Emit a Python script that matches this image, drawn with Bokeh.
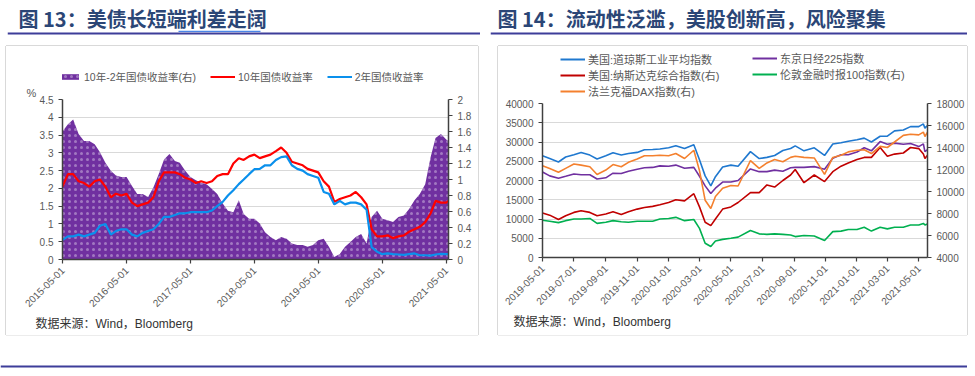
import pandas as pd
from math import pi
from bokeh.plotting import figure
from bokeh.models import (Range1d, LinearAxis, FixedTicker, DatetimeTickFormatter, BoxAnnotation,
                          NumeralTickFormatter, Legend, LegendItem, Label, Span, Spacer, Title)
from bokeh.layouts import column, row
from bokeh.embed import file_html
from bokeh.resources import INLINE

CJK = "Noto Sans CJK SC"
MIX = "Liberation Sans, Noto Sans CJK SC"

# ---------------- Figure 13 data (monthly readings) ----------------
title_L = "图 13：美债长短端利差走阔"
legend_L = ["10年-2年国债收益率(右)", "10年国债收益率", "2年国债收益率"]
xticks_L = ["2015-05-01", "2016-05-01", "2017-05-01", "2018-05-01", "2019-05-01", "2020-05-01", "2021-05-01"]
x_end_L = "2021-05-14"
yticks_L_left = [0, 0.5, 1, 1.5, 2, 2.5, 3, 3.5, 4, 4.5]
yticks_L_right = [0, 0.2, 0.4, 0.6, 0.8, 1.0, 1.2, 1.4, 1.6, 1.8, 2.0]

spread = [1.60, 1.69, 1.75, 1.57, 1.48, 1.48, 1.44, 1.34,
          1.21, 1.11, 1.05, 1.03, 1.03, 0.92, 0.82, 0.82, 0.78, 0.90, 1.07, 1.25,
          1.32, 1.23, 1.21, 1.11, 1.03, 0.99, 0.96, 0.94, 0.88, 0.82, 0.70, 0.61,
          0.59, 0.74, 0.57, 0.51, 0.51, 0.45, 0.34, 0.28, 0.24, 0.28, 0.26, 0.20,
          0.18, 0.18, 0.16, 0.18, 0.24, 0.26, 0.16, 0.03, 0.07, 0.16, 0.22, 0.28,
          0.32, 0.20, 0.53, 0.61, 0.51, 0.49, 0.47, 0.53, 0.55, 0.63, 0.74, 0.82,
          0.94, 1.28, 1.52, 1.57, 1.50, 1.48]
y10 = [2.05, 2.40, 2.40, 2.20, 2.15, 2.05, 2.20, 2.25,
       2.05, 1.75, 1.85, 1.80, 1.85, 1.60, 1.50, 1.55, 1.60, 1.75, 2.20, 2.45,
       2.45, 2.45, 2.40, 2.30, 2.25, 2.15, 2.20, 2.15, 2.20, 2.35, 2.40, 2.40,
       2.70, 2.85, 2.80, 2.90, 2.95, 2.85, 2.90, 2.95, 3.05, 3.15, 3.00, 2.75,
       2.70, 2.65, 2.55, 2.50, 2.45, 2.20, 2.05, 1.62, 1.70, 1.75, 1.80, 1.90,
       1.75, 1.55, 0.85, 0.65, 0.65, 0.68, 0.60, 0.65, 0.68, 0.78, 0.85, 0.92,
       1.05, 1.30, 1.65, 1.60, 1.60, 1.65]
y2 = [0.55, 0.65, 0.65, 0.70, 0.65, 0.70, 0.75, 0.95,
      1.00, 0.70, 0.80, 0.85, 0.85, 0.70, 0.65, 0.75, 0.80, 0.85, 1.00, 1.20,
      1.20, 1.25, 1.30, 1.30, 1.33, 1.33, 1.33, 1.33, 1.38, 1.50, 1.62, 1.80,
      1.95, 2.12, 2.25, 2.40, 2.54, 2.55, 2.65, 2.65, 2.80, 2.88, 2.90, 2.65,
      2.55, 2.50, 2.40, 2.35, 2.30, 1.90, 1.85, 1.55, 1.65, 1.55, 1.60, 1.60,
      1.55, 1.40, 0.35, 0.22, 0.15, 0.17, 0.15, 0.14, 0.13, 0.15, 0.17, 0.12,
      0.12, 0.11, 0.14, 0.16, 0.15, 0.15]
dates_L = list(pd.date_range("2015-05-01", periods=len(y10) - 1, freq="MS")) + [pd.Timestamp(x_end_L)]

# ---------------- Figure 14 data ----------------
title_R = "图 14：流动性泛滥，美股创新高，风险聚集"
xticks_R = ["2019-05-01", "2019-07-01", "2019-09-01", "2019-11-01", "2020-01-01", "2020-03-01",
            "2020-05-01", "2020-07-01", "2020-09-01", "2020-11-01", "2021-01-01", "2021-03-01", "2021-05-01"]
x_end_R = "2021-05-18"
yticks_R_left = [0, 5000, 10000, 15000, 20000, 25000, 30000, 35000, 40000]
yticks_R_right = [4000, 6000, 8000, 10000, 12000, 14000, 16000, 18000]
dates_R = ["2019-05-01", "2019-05-15", "2019-06-01", "2019-06-15", "2019-07-01", "2019-07-15",
           "2019-08-01", "2019-08-15", "2019-09-01", "2019-09-15", "2019-10-01", "2019-10-15",
           "2019-11-01", "2019-11-15", "2019-12-01", "2019-12-15", "2020-01-01", "2020-01-15",
           "2020-02-01", "2020-02-19", "2020-03-01", "2020-03-12", "2020-03-23", "2020-04-01",
           "2020-04-15", "2020-05-01", "2020-05-15", "2020-06-08", "2020-06-25", "2020-07-10",
           "2020-07-25", "2020-08-10", "2020-08-25", "2020-09-03", "2020-09-20", "2020-10-10",
           "2020-10-30", "2020-11-15", "2020-12-01", "2020-12-15", "2021-01-01", "2021-01-15",
           "2021-01-29", "2021-02-15", "2021-03-01", "2021-03-15", "2021-04-01", "2021-04-15",
           "2021-05-01", "2021-05-10", "2021-05-13", "2021-05-18"]
dow = [26400, 25700, 24800, 26100, 26700, 27300, 26600, 25600, 26400, 27200, 26600, 27000,
       27300, 28000, 28050, 28200, 28500, 29000, 28300, 29300, 25400, 21200, 18600, 21000,
       23500, 24000, 23700, 27500, 25700, 26000, 26500, 27800, 28300, 29000, 27700, 28500,
       26500, 29500, 29800, 30200, 30600, 31000, 30000, 31500, 31500, 32900, 33100, 34000,
       34000, 34700, 33600, 34300]
nikkei = [22200, 21200, 20600, 21100, 21700, 21500, 21500, 20400, 20700, 21900, 21800, 22400,
          22900, 23300, 23400, 23800, 23700, 24000, 23200, 23400, 21100, 18600, 16600, 18000,
          19600, 19600, 20000, 23000, 22300, 22300, 22700, 22400, 23300, 23400, 23400, 23600,
          22900, 25800, 26700, 26700, 27400, 28500, 27700, 30100, 29400, 29700, 29400, 29600,
          28800, 29500, 27500, 28000]
nasdaq = [8050, 7850, 7450, 7800, 8100, 8250, 8100, 7800, 7950, 8150, 7900, 8150,
          8400, 8550, 8650, 8800, 9000, 9250, 9150, 9800, 8600, 7200, 6900, 7500,
          8400, 8600, 9000, 9900, 9900, 10600, 10400, 11000, 11500, 12000, 10800, 11500,
          10900, 11800, 12300, 12600, 12900, 13100, 13100, 14000, 13200, 13400, 13500, 14000,
          13900, 13400, 13000, 13300]
dax = [12350, 12100, 11750, 12100, 12500, 12400, 12250, 11550, 11950, 12450, 12250, 12650,
       12950, 13250, 13250, 13300, 13250, 13450, 13000, 13750, 11900, 9200, 8450, 9550,
       10300, 10550, 10500, 12800, 12100, 12600, 12900, 12700, 13100, 13200, 13100, 13050,
       11550, 13100, 13300, 13600, 13750, 13800, 13450, 14100, 14000, 14500, 15100, 15200,
       15150, 15400, 15000, 15400]
ftse = [7380, 7300, 7170, 7350, 7500, 7500, 7550, 7100, 7200, 7350, 7250, 7200,
        7300, 7300, 7300, 7500, 7550, 7650, 7350, 7450, 6650, 5300, 5000, 5500,
        5650, 5750, 5850, 6450, 6150, 6100, 6150, 6100, 6050, 5900, 6000, 5950,
        5550, 6350, 6400, 6550, 6550, 6750, 6400, 6750, 6600, 6750, 6750, 6950,
        6950, 7100, 6950, 7050]
legend_R = ["美国:道琼斯工业平均指数", "美国:纳斯达克综合指数(右)", "法兰克福DAX指数(右)",
            "东京日经225指数", "伦敦金融时报100指数(右)"]
source_text = "数据来源：Wind，Bloomberg"
unit_text = "%"

TICK_COLOR = "#595959"
AXIS_COLOR = "#404040"
C_SPREAD, C_10, C_2 = "#7030A0", "#FF0000", "#0A90EC"
C_DOW, C_NAS, C_DAX, C_NIK, C_FTSE = "#1F78CF", "#C00000", "#F4802E", "#7030A0", "#00B050"
BOX_TOP = {"box-shadow": "0 -1px 0 0 #d9d9d9, -1px 0 0 0 #d9d9d9, 1px 0 0 0 #d9d9d9"}
BOX_BOTTOM = {"box-shadow": "0 1px 0 0 #d9d9d9, -1px 0 0 0 #d9d9d9, 1px 0 0 0 #d9d9d9"}
HATCH = dict(hatch_pattern="dot", hatch_color="white", hatch_scale=6, hatch_weight=0.5,
             hatch_alpha=0.35)


def ms(s):
    return pd.Timestamp(s).value // 10**6


def style_axis(ax, size="10px"):
    ax.axis_line_color = AXIS_COLOR
    ax.axis_line_width = 1.5
    ax.major_tick_line_color = AXIS_COLOR
    ax.major_tick_line_width = 1.2
    ax.major_tick_in = 0
    ax.major_tick_out = 4
    ax.minor_tick_line_color = None
    ax.major_label_text_color = TICK_COLOR
    ax.major_label_text_font = "Liberation Sans"
    ax.major_label_text_font_size = size


def date_formatter():
    f = "%Y-%m-%d"
    return DatetimeTickFormatter(microseconds=f, milliseconds=f, seconds=f, minsec=f, minutes=f,
                                 hourmin=f, hours=f, days=f, months=f, years=f)


def blank(width, height, styles=None):
    f = figure(width=width, height=height, x_range=Range1d(0, 1), y_range=Range1d(0, 1),
               min_border=0, toolbar_location=None, output_backend="svg",
               outline_line_color=None, x_axis_location=None, y_axis_location=None,
               styles=styles or {})
    f.grid.grid_line_color = None
    return f


def header(text, width, x_off):
    h = blank(width, 46)
    h.add_layout(Label(x=x_off, y=28, x_units="screen", y_units="screen", text=text,
                       text_font=CJK, text_font_size="20px", text_font_style="bold",
                       text_color="#2B4676", text_baseline="middle"))
    h.add_layout(Span(location=0.283, dimension="width", line_color="#3D3D99", line_width=2))
    return h


def legend_box(items, loc, orientation, spacing, glyph_h, size):
    return Legend(items=items, orientation=orientation, location=loc, padding=0, margin=0,
                  spacing=spacing, glyph_width=25, glyph_height=glyph_h, label_standoff=3,
                  label_height=14, label_text_line_height=1.0,
                  border_line_alpha=0, background_fill_alpha=0,
                  label_text_font=MIX, label_text_font_size=size, label_text_color=TICK_COLOR)


def source_title(offset):
    return Title(text=source_text, align="left", offset=offset, standoff=2,
                 text_font=MIX, text_font_size="12px", text_font_style="normal",
                 text_color="#333333")


# ---------------- Left chart ----------------
pL = figure(width=472, height=251, x_axis_type="datetime",
            x_range=Range1d(pd.Timestamp(xticks_L[0]), pd.Timestamp(x_end_L)),
            y_range=Range1d(0, 4.5), output_backend="svg", toolbar_location=None,
            min_border_left=56, min_border_right=30, min_border_top=14, min_border_bottom=76,
            outline_line_color=None, styles=BOX_BOTTOM)
pL.extra_y_ranges = {"right": Range1d(0, 2)}
pL.xgrid.visible = False
pL.ygrid.grid_line_color = "#d9d9d9"
pL.yaxis.ticker = FixedTicker(ticks=yticks_L_left)
pL.yaxis.formatter = NumeralTickFormatter(format="0.[0]")
pL.xaxis.ticker = FixedTicker(ticks=[ms(t) for t in xticks_L])
pL.xaxis.formatter = date_formatter()
pL.xaxis.major_label_orientation = pi / 4
axR = LinearAxis(y_range_name="right", ticker=FixedTicker(ticks=yticks_L_right),
                 formatter=NumeralTickFormatter(format="0.[0]"))
pL.add_layout(axR, "right")
for ax in [pL.xaxis[0], pL.yaxis[0], axR]:
    style_axis(ax)

pL.varea(x=dates_L, y1=0, y2=spread, y_range_name="right", fill_color=C_SPREAD, **HATCH)
pL.line(dates_L, y10, line_color=C_10, line_width=2.2)
pL.line(dates_L, y2, line_color=C_2, line_width=2.2)
pL.add_layout(Title(text=unit_text, align="left", offset=-36, standoff=1,
                    text_font="Liberation Sans", text_font_size="11px", text_font_style="normal",
                    text_color=TICK_COLOR), "above")
pL.add_layout(source_title(-27), "below")

# legend strip of the left panel: the same series drawn out of view serve as legend keys
lL = blank(472, 38, BOX_TOP)
k_area = lL.varea(x=dates_L, y1=0, y2=spread, fill_color=C_SPREAD, **HATCH)
k_10 = lL.line(dates_L, y10, line_color=C_10, line_width=2)
k_2 = lL.line(dates_L, y2, line_color=C_2, line_width=2)
lL.add_layout(legend_box([LegendItem(label=legend_L[0], renderers=[k_area]),
                          LegendItem(label=legend_L[1], renderers=[k_10]),
                          LegendItem(label=legend_L[2], renderers=[k_2])],
                         (-6, 0), "horizontal", 14, 7, "10.5px"))

# ---------------- Right chart ----------------
dR = pd.to_datetime(dates_R)
pR = figure(width=469, height=236, x_axis_type="datetime",
            x_range=Range1d(pd.Timestamp(xticks_R[0]), pd.Timestamp(x_end_R)),
            y_range=Range1d(0, 40000), output_backend="svg", toolbar_location=None,
            min_border_left=44, min_border_right=40, min_border_top=4, min_border_bottom=78,
            outline_line_color=None, styles=BOX_BOTTOM)
pR.extra_y_ranges = {"right": Range1d(4000, 18000)}
pR.xgrid.visible = False
pR.ygrid.grid_line_color = "#d9d9d9"
pR.yaxis.ticker = FixedTicker(ticks=yticks_R_left)
pR.yaxis.formatter = NumeralTickFormatter(format="0")
pR.xaxis.ticker = FixedTicker(ticks=[ms(t) for t in xticks_R])
pR.xaxis.formatter = date_formatter()
pR.xaxis.major_label_orientation = pi / 4
axR2 = LinearAxis(y_range_name="right", ticker=FixedTicker(ticks=yticks_R_right),
                  formatter=NumeralTickFormatter(format="0"))
pR.add_layout(axR2, "right")
for ax in [pR.xaxis[0], pR.yaxis[0], axR2]:
    style_axis(ax)

pR.line(dR, dow, line_color=C_DOW, line_width=1.6)
pR.line(dR, nikkei, line_color=C_NIK, line_width=1.6)
pR.line(dR, nasdaq, line_color=C_NAS, line_width=1.6, y_range_name="right")
pR.line(dR, ftse, line_color=C_FTSE, line_width=1.6, y_range_name="right")
pR.line(dR, dax, line_color=C_DAX, line_width=1.6, y_range_name="right")
pR.add_layout(source_title(-29), "below")

lR = blank(469, 53, BOX_TOP)
k_dow = lR.line(dR, dow, line_color=C_DOW, line_width=2)
k_nas = lR.line(dR, nasdaq, line_color=C_NAS, line_width=2)
k_dax = lR.line(dR, dax, line_color=C_DAX, line_width=2)
k_nik = lR.line(dR, nikkei, line_color=C_NIK, line_width=2)
k_ftse = lR.line(dR, ftse, line_color=C_FTSE, line_width=2)
lR.add_layout(legend_box([LegendItem(label=legend_R[0], renderers=[k_dow]),
                          LegendItem(label=legend_R[1], renderers=[k_nas]),
                          LegendItem(label=legend_R[2], renderers=[k_dax])],
                         (18, 0), "vertical", 0, 14, "11px"))
lR.add_layout(legend_box([LegendItem(label=legend_R[3], renderers=[k_nik]),
                          LegendItem(label=legend_R[4], renderers=[k_ftse])],
                         (210, 17), "vertical", 0, 14, "11px"))

# ---------------- Layout ----------------
hL = header(title_L, 473, 11)
# thin link-style underline beneath the last four characters of the left title
hL.add_layout(BoxAnnotation(left=171, right=253, bottom=14.5, top=15.8, left_units="screen",
                            right_units="screen", bottom_units="screen", top_units="screen",
                            fill_color="#4A86E8", fill_alpha=1, line_color=None))
hR = header(title_R, 477, 7)
bottom = blank(967, 33)
bottom.add_layout(Span(location=0.06, dimension="width", line_color="#3D3D99", line_width=2))

layout = column(row(Spacer(width=7, height=46), hL, Spacer(width=10, height=46), hR),
                row(Spacer(width=6, height=289), column(lL, pL), Spacer(width=20, height=289),
                    column(lR, pR)),
                bottom)

open("out.html", "w").write(file_html(layout, INLINE))
